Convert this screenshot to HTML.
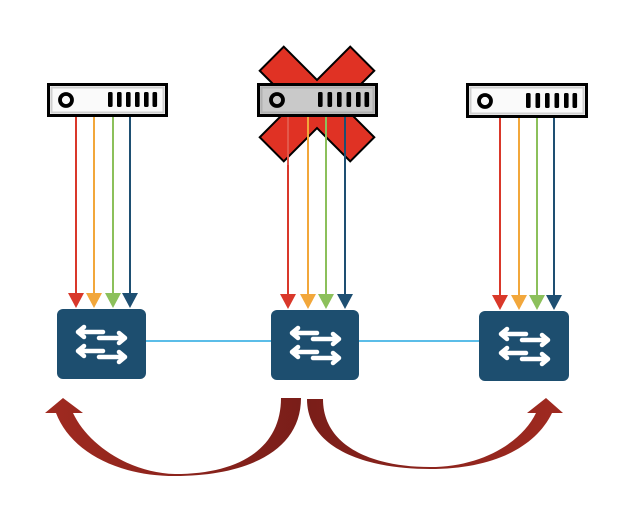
<!DOCTYPE html>
<html><head><meta charset="utf-8"><style>
html,body{margin:0;padding:0;background:#fff;}
svg{display:block;}
</style></head><body>
<svg width="632" height="528" viewBox="0 0 632 528" xmlns="http://www.w3.org/2000/svg">
<defs>
<linearGradient id="gl" x1="0" y1="0" x2="1" y2="0"><stop offset="0" stop-color="#a02a20"/><stop offset="1" stop-color="#7a1e19"/></linearGradient>
<linearGradient id="gr" x1="0" y1="0" x2="1" y2="0"><stop offset="0" stop-color="#7a1e19"/><stop offset="1" stop-color="#a02a20"/></linearGradient>
</defs>

<!-- Red X behind middle server -->
<g transform="translate(317,104) rotate(45)" fill="#e03224" stroke="#000" stroke-width="2">
<path d="M-64,-17 L-17,-17 L-17,-64 L17,-64 L17,-17 L64,-17 L64,17 L17,17 L17,64 L-17,64 L-17,17 L-64,17 Z"/>
</g>

<!-- Connector lines between switches -->
<line x1="146" y1="341" x2="271" y2="341" stroke="#5bbde8" stroke-width="2"/>
<line x1="359" y1="341" x2="483" y2="341" stroke="#5bbde8" stroke-width="2"/>

<!-- Flow lines + arrowheads -->
<g stroke-width="2">
<line x1="76" y1="117" x2="76" y2="295" stroke="#d9382a"/>
<line x1="94" y1="117" x2="94" y2="295" stroke="#f2a73b"/>
<line x1="113" y1="117" x2="113" y2="295" stroke="#8cc05b"/>
<line x1="130" y1="117" x2="130" y2="295" stroke="#1e4f72"/>
<line x1="288" y1="117" x2="288" y2="296" stroke="#d9382a"/>
<line x1="308" y1="117" x2="308" y2="296" stroke="#f2a73b"/>
<line x1="326" y1="117" x2="326" y2="296" stroke="#8cc05b"/>
<line x1="345" y1="117" x2="345" y2="296" stroke="#1e4f72"/>
<line x1="500" y1="118" x2="500" y2="297" stroke="#d9382a"/>
<line x1="519" y1="118" x2="519" y2="297" stroke="#f2a73b"/>
<line x1="537" y1="118" x2="537" y2="297" stroke="#8cc05b"/>
<line x1="554" y1="118" x2="554" y2="297" stroke="#1e4f72"/>
</g>
<g>
<polygon points="68,293 84,293 76,308" fill="#d9382a"/>
<polygon points="86,293 102,293 94,308" fill="#f2a73b"/>
<polygon points="105,293 121,293 113,308" fill="#8cc05b"/>
<polygon points="122,293 138,293 130,308" fill="#1e4f72"/>
<polygon points="280,294 296,294 288,309" fill="#d9382a"/>
<polygon points="300,294 316,294 308,309" fill="#f2a73b"/>
<polygon points="318,294 334,294 326,309" fill="#8cc05b"/>
<polygon points="337,294 353,294 345,309" fill="#1e4f72"/>
<polygon points="492,295 508,295 500,310" fill="#d9382a"/>
<polygon points="511,295 527,295 519,310" fill="#f2a73b"/>
<polygon points="529,295 545,295 537,310" fill="#8cc05b"/>
<polygon points="546,295 562,295 554,310" fill="#1e4f72"/>
</g>

<!-- Servers -->
<g>
<rect x="48.5" y="84.5" width="118" height="31" fill="#fafafa" stroke="#000" stroke-width="3"/>
<rect x="51.5" y="87.5" width="112" height="25" fill="none" stroke="#d0d0d0" stroke-width="2"/>
<circle cx="66" cy="100" r="6" fill="none" stroke="#000" stroke-width="3.8"/>
<g fill="#000">
<rect x="108" y="92" width="4.6" height="15" rx="1.5"/>
<rect x="117" y="92" width="4.6" height="15" rx="1.5"/>
<rect x="126" y="92" width="4.6" height="15" rx="1.5"/>
<rect x="135" y="92" width="4.6" height="15" rx="1.5"/>
<rect x="144" y="92" width="4.6" height="15" rx="1.5"/>
<rect x="152.5" y="92" width="4.6" height="15" rx="1.5"/>
</g>
</g>

<g>
<rect x="258.5" y="84.5" width="118" height="31" fill="#c9c9c9" stroke="#000" stroke-width="3"/>
<rect x="261.5" y="87.5" width="112" height="25" fill="none" stroke="#b0b0b0" stroke-width="2"/>
<circle cx="277" cy="100" r="6" fill="none" stroke="#000" stroke-width="3.8"/>
<g fill="#000">
<rect x="318" y="92" width="4.6" height="15" rx="1.5"/>
<rect x="327.5" y="92" width="4.6" height="15" rx="1.5"/>
<rect x="337" y="92" width="4.6" height="15" rx="1.5"/>
<rect x="346.5" y="92" width="4.6" height="15" rx="1.5"/>
<rect x="356" y="92" width="4.6" height="15" rx="1.5"/>
<rect x="364.5" y="92" width="4.6" height="15" rx="1.5"/>
</g>
</g>
<!-- middle lines over X visible -->
<g stroke-width="2">
<line x1="308" y1="117" x2="308" y2="165" stroke="#f2a73b"/>
<line x1="326" y1="117" x2="326" y2="165" stroke="#8cc05b"/>
<line x1="345" y1="117" x2="345" y2="165" stroke="#1e4f72"/>
<line x1="288" y1="117" x2="288" y2="165" stroke="#e3584a"/>
</g>

<g>
<rect x="467.5" y="84.5" width="119" height="32" fill="#fafafa" stroke="#000" stroke-width="3"/>
<rect x="470.5" y="87.5" width="113" height="26" fill="none" stroke="#d0d0d0" stroke-width="2"/>
<circle cx="485" cy="101" r="6" fill="none" stroke="#000" stroke-width="3.8"/>
<g fill="#000">
<rect x="526" y="93" width="4.6" height="15" rx="1.5"/>
<rect x="535.5" y="93" width="4.6" height="15" rx="1.5"/>
<rect x="545" y="93" width="4.6" height="15" rx="1.5"/>
<rect x="554.5" y="93" width="4.6" height="15" rx="1.5"/>
<rect x="564" y="93" width="4.6" height="15" rx="1.5"/>
<rect x="572.5" y="93" width="4.6" height="15" rx="1.5"/>
</g>
</g>

<!-- Switches -->
<g>
<rect x="57" y="309" width="89" height="70" rx="6" fill="#1d4e6f"/>
<rect x="271" y="310" width="88" height="70" rx="6" fill="#1d4e6f"/>
<rect x="479" y="311" width="90" height="70" rx="6" fill="#1d4e6f"/>
</g>
<g fill="none" stroke="#fff" stroke-width="4.5" stroke-linecap="round" stroke-linejoin="round">
<g transform="translate(57,309)">
<path d="M21,23 H46 M27,18 L21,23 L27,28"/>
<path d="M42,29 H68 M62,24 L68,29 L62,34"/>
<path d="M21,42 H46 M27,37 L21,42 L27,47"/>
<path d="M42,48 H68 M62,43 L68,48 L62,53"/>
</g>
<g transform="translate(271,310)">
<path d="M21,23 H46 M27,18 L21,23 L27,28"/>
<path d="M42,29 H68 M62,24 L68,29 L62,34"/>
<path d="M21,42 H46 M27,37 L21,42 L27,47"/>
<path d="M42,48 H68 M62,43 L68,48 L62,53"/>
</g>
<g transform="translate(480,311)">
<path d="M21,23 H46 M27,18 L21,23 L27,28"/>
<path d="M42,29 H68 M62,24 L68,29 L62,34"/>
<path d="M21,42 H46 M27,37 L21,42 L27,47"/>
<path d="M42,48 H68 M62,43 L68,48 L62,53"/>
</g>
</g>

<!-- Curved failover arrows -->
<path d="M301,398 C301,452 245,476 175,476 C115,476 70,450 56,413 L45,413 L63,398 L83,413 L73,413 C88,445 130,473 175,474 C240,474 281,448 281,398 Z" fill="url(#gl)"/>
<path d="M307,399 C307,448 365,469 430,469 C492,469 535,448 552,413 L563,413 L546,398 L527,413 L536,413 C522,442 482,467 430,467 C372,467 323,446 323,399 Z" fill="url(#gr)"/>
</svg>
</body></html>
